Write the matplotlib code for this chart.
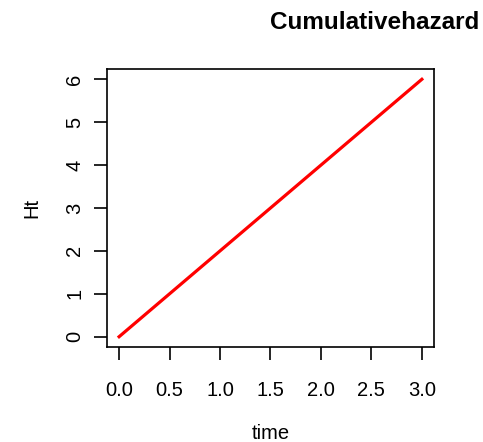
import numpy as np
import matplotlib.pyplot as plt

plt.rcParams['font.family'] = ['Liberation Sans', 'DejaVu Sans']

# cumulative hazard values over time
time = [0.0, 0.5, 1.0, 1.5, 2.0, 2.5, 3.0]
Ht = [0.0, 1.0, 2.0, 3.0, 4.0, 5.0, 6.0]
xticks = [0.0, 0.5, 1.0, 1.5, 2.0, 2.5, 3.0]
yticks = [0, 1, 2, 3, 4, 5, 6]

fig = plt.figure(figsize=(4.83, 4.42), dpi=100)
ax = fig.add_axes([0.2215, 0.2149, 0.677, 0.629])

ax.plot(time, Ht, color='red', linewidth=2.3)

# R-like 4% padding on each side
ax.set_xlim(-0.12, 3.12)
ax.set_ylim(-0.24, 6.24)

ax.set_xticks(xticks)
ax.set_xticklabels(['%.1f' % v for v in xticks], fontsize=14.5)
ax.set_yticks(yticks)
ax.set_yticklabels([str(v) for v in yticks], fontsize=14.5, rotation=90, va='center')

ax.tick_params(direction='out', length=9.5, width=1.2)
ax.tick_params(axis='x', pad=15)
ax.tick_params(axis='y', pad=7)
for s in ax.spines.values():
    s.set_linewidth(1.2)

ax.set_xlabel('time', fontsize=14.5, labelpad=17)
ax.set_ylabel('Ht', fontsize=14.5, labelpad=17)

fig.text(0.776, 0.95, 'Cumulativehazard', fontsize=17.5, fontweight='bold',
         ha='center', va='center')

fig.savefig('out.png', dpi=100)
